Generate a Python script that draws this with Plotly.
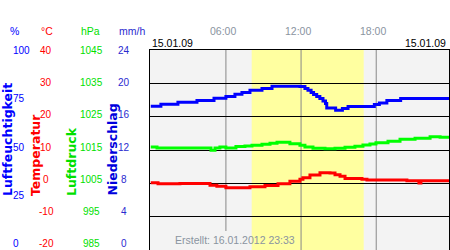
import plotly.graph_objects as go

# ---------------- data ----------------
date_label = "15.01.09"
created_label = "Erstellt: 16.01.2012 23:33"
time_labels = ["06:00", "12:00", "18:00"]
time_label_hours = [6, 12, 18]
sunrise_h = 8.06
sunset_h = 17.0

# relative humidity (%)
hum_hours = [0, 0.81, 2.17, 3.69, 5.05, 6.0, 6.72, 7.28, 7.92, 8.88, 9.68, 11.91,
             12.31, 12.55, 12.8, 13.0, 13.25, 13.5, 13.75, 13.95, 14.05, 14.76,
             15.3, 15.75, 17.85, 18.25, 18.85, 19.95, 24]
humidity = [71.9, 72.9, 73.9, 74.7, 75.9, 76.7, 77.9, 78.8, 79.9, 80.8, 81.9, 81.7,
            80.8, 79.9, 78.8, 77.8, 76.7, 75.7, 74.5, 73.2, 71.0, 69.9,
            70.7, 71.7, 72.7, 73.5, 74.7, 75.8, 75.8]

# air pressure (hPa)
pres_hours = [0, 0.5, 4.81, 5.13, 5.52, 6.0, 6.8, 7.52, 8.08, 8.88, 9.52, 10.08,
              11.11, 11.91, 12.31, 12.95, 13.91, 14.71, 15.51, 16.3, 16.94, 17.5,
              17.98, 18.94, 19.9, 21.1, 22.3, 23.1, 24]
pressure = [1015.9, 1015.6, 1014.9, 1015.6, 1015.9, 1015.6, 1016.05, 1016.2, 1016.4,
            1016.7, 1017.0, 1017.3, 1016.9, 1016.4, 1015.9, 1015.5, 1015.4, 1015.5,
            1015.8, 1016.1, 1016.5, 1016.8, 1017.2, 1017.6, 1018.2, 1018.5, 1019.0,
            1018.8, 1018.8]

# temperature (°C)
temp_hours = [0, 0.58, 2.33, 4.73, 5.28, 6.0, 7.92, 9.12, 10.16, 11.11, 11.91, 12.15,
              12.71, 13.51, 14.31, 14.71, 15.11, 15.51, 16.86, 17.26, 20.45, 21.41,
              21.57, 24]
temperature = [0.16, -0.14, -0.05, -0.56, -0.89, -1.31, -1.04, -0.65, -0.14, 0.61,
               1.21, 1.66, 2.5, 3.16, 3.1, 2.59, 2.11, 1.45, 1.21, 1.0, 0.76, 0.1,
               0.76, 0.76]

# axis scales and tick labels
pct_ticks = [100, 75, 50, 25, 0]
temp_ticks = [40, 30, 20, 10, 0, -10, -20]
hpa_ticks = [1045, 1035, 1025, 1015, 1005, 995, 985]
mmh_ticks = [24, 20, 16, 12, 8, 4, 0]
headers = ["%", "°C", "hPa", "mm/h"]
titles = ["Luftfeuchtigkeit", "Temperatur", "Luftdruck", "Niederschlag"]

# ---------------- styling ----------------
C_BLUE = "#0000ff"
C_RED = "#ff0000"
C_GREEN = "#00ff00"
C_GREEN_T = "#00e000"
C_MM = "#2a2ad0"
C_GRAY = "#8a94a0"
FONT = "Liberation Sans, Arial, sans-serif"
BOLD = "DejaVu Sans, Verdana, sans-serif"

W, H = 450, 250
L, R, T, B = 150, 1, 50, 0
PW, PH = W - L - R, H - T - B


def px(x, y):
    return (x - L) / PW, (H - B - y) / PH


fig = go.Figure()
fig.add_trace(go.Scatter(x=hum_hours, y=humidity, yaxis="y2", mode="lines",
                         line=dict(color=C_BLUE, width=3, shape="hv"), hoverinfo="skip"))
fig.add_trace(go.Scatter(x=pres_hours, y=pressure, yaxis="y3", mode="lines",
                         line=dict(color=C_GREEN, width=3, shape="hv"), hoverinfo="skip"))
fig.add_trace(go.Scatter(x=temp_hours, y=temperature, yaxis="y", mode="lines",
                         line=dict(color=C_RED, width=3, shape="hv"), hoverinfo="skip"))

shapes = [dict(type="rect", xref="x", yref="paper", x0=sunrise_h, x1=sunset_h, y0=0, y1=1,
               fillcolor="#ffffa0", line=dict(width=0), layer="below")]
for h in time_label_hours:
    y0 = px(0, 231)[1] if h == 6 else 0
    shapes.append(dict(type="line", xref="x", yref="paper", x0=h, x1=h, y0=y0, y1=1,
                       line=dict(color="#888888", width=1), layer="below"))

ann = []


def add_text(text, x, y, color, size=10, xanchor="center", yanchor="middle", font=FONT,
             angle=0):
    xp, yp = px(x, y)
    ann.append(dict(text=text, x=xp, y=yp, xref="paper", yref="paper", showarrow=False,
                    xanchor=xanchor, yanchor=yanchor, textangle=angle,
                    font=dict(family=font, size=size, color=color)))


# column headers
for text, x, col in zip(headers, [14, 47, 90, 132], [C_BLUE, C_RED, C_GREEN_T, C_MM]):
    add_text(text, x, 30.5, col, size=10.5)

# tick labels
for i, v in enumerate(pct_ticks):
    add_text(str(v), 11, 50.5 + i * 48.3, C_BLUE, xanchor="left")
for i, v in enumerate(temp_ticks):
    add_text(str(v), 46, 50.5 + i * 32.2, C_RED)
for i, v in enumerate(hpa_ticks):
    add_text(str(v), 91, 50.5 + i * 32.2, C_GREEN_T)
for i, v in enumerate(mmh_ticks):
    add_text(str(v), 124, 50.5 + i * 32.2, C_MM)

# rotated titles
for text, x, col in zip(titles, [7.5, 35, 71.5, 111.5], [C_BLUE, C_RED, C_GREEN_T, "#0000dd"]):
    add_text("<b>" + text + "</b>", x, 198, col, size=12.5, yanchor="bottom", font=BOLD,
             angle=-90)

# top labels
for lab, h in zip(time_labels, time_label_hours):
    xpx = 150.8 + h * 12.525 - 3
    add_text(lab, xpx, 30.5, C_GRAY, size=10.5)
add_text(date_label, 150, 43, "#000000", size=10.5, xanchor="left")
add_text(date_label, 448, 43, "#000000", size=10.5, xanchor="right")
add_text(created_label, 173, 240, C_GRAY, size=10.5, xanchor="left")

fig.update_layout(
    width=W, height=H, margin=dict(l=L, r=R, t=T, b=B, pad=0),
    paper_bgcolor="#ffffff", plot_bgcolor="#f3f3f3", showlegend=False,
    shapes=shapes, annotations=ann,
    xaxis=dict(range=[-0.06, 23.81], showgrid=False, zeroline=False, showticklabels=False,
               ticks="", showline=True, mirror=True, linecolor="#000000", linewidth=1),
    yaxis=dict(range=[-20, 40], tickvals=[-10, 0, 10, 20, 30], showgrid=True,
               gridcolor="#000000", gridwidth=1, zeroline=False, showticklabels=False,
               ticks="", showline=True, mirror=True, linecolor="#000000", linewidth=1),
    yaxis2=dict(range=[0, 100], overlaying="y", visible=False),
    yaxis3=dict(range=[985, 1045], overlaying="y", visible=False),
    yaxis4=dict(range=[0, 24], overlaying="y", visible=False),
)

fig.write_html("out.html")
